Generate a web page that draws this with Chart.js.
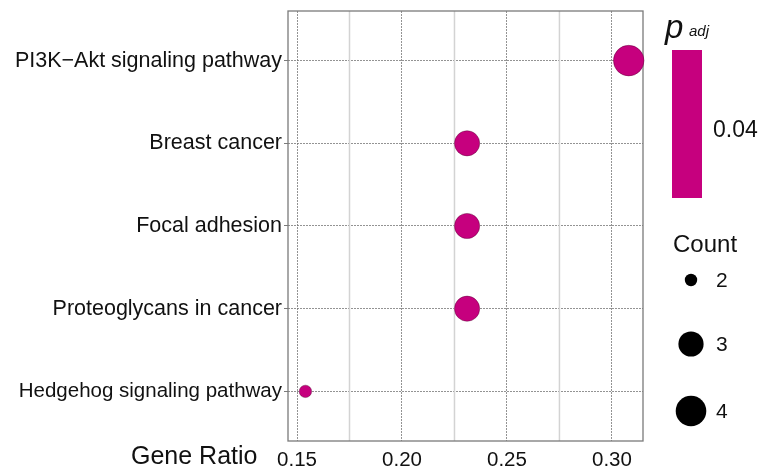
<!DOCTYPE html>
<html>
<head>
<meta charset="utf-8">
<script src="https://cdn.jsdelivr.net/npm/chart.js@4"></script>
<style>
  html, body { margin: 0; padding: 0; background: #fff; }
  #wrap { width: 765px; height: 470px; position: relative; }
</style>
</head>
<body>
<div id="wrap"><canvas id="dotplot"></canvas></div>
<script>
// pathways, top to bottom
const pathways = [
  'PI3K\u2212Akt signaling pathway',
  'Breast cancer',
  'Focal adhesion',
  'Proteoglycans in cancer',
  'Hedgehog signaling pathway'
];
const geneRatio = [0.308, 0.231, 0.231, 0.231, 0.154];
const counts = [4, 3, 3, 3, 2];
const padj = [0.04, 0.04, 0.04, 0.04, 0.04];

const xTicks = [0.15, 0.20, 0.25, 0.30];
const xMinor = [0.175, 0.225, 0.275];
const legendCounts = [2, 3, 4];
const padjTicks = ['0.04'];

const dotColor = '#C6007E';
const countRadius = { 2: 6.2, 3: 12.6, 4: 15.3 };
const font = "'Liberation Sans', Arial, sans-serif";

// row position: top row gets the highest value
const rowOf = i => pathways.length - i;

const points = pathways.map((p, i) => ({ x: geneRatio[i], y: rowOf(i) }));

// minor grid, panel box, legends on the right, x title
const sidePlugin = {
  id: 'side',
  beforeDatasetsDraw(chart) {
    const a = chart.chartArea, c = chart.ctx, xs = chart.scales.x;
    c.save();
    c.strokeStyle = '#d3d3d3';
    c.lineWidth = 1.5;
    xMinor.forEach(v => {
      const px = xs.getPixelForValue(v);
      c.beginPath();
      c.moveTo(px, a.top);
      c.lineTo(px, a.bottom);
      c.stroke();
    });
    c.strokeStyle = '#7a7a7a';
    c.lineWidth = 1.3;
    c.strokeRect(a.left, a.top, a.right - a.left, a.bottom - a.top);
    c.restore();
  },
  afterDraw(chart) {
    const c = chart.ctx;
    c.save();
    c.fillStyle = '#111';
    c.textBaseline = 'alphabetic';
    c.textAlign = 'left';

    c.font = '25px ' + font;
    c.fillText('Gene Ratio', 131, 464);

    // p_adj title
    c.font = 'italic 33px ' + font;
    c.fillText('p', 665, 38);
    c.font = 'italic 15px ' + font;
    c.fillText('adj', 689, 36);

    // colour bar (all values equal, single colour)
    c.fillStyle = dotColor;
    c.fillRect(672, 50, 30, 148);
    c.fillStyle = '#111';
    c.font = '23px ' + font;
    c.textBaseline = 'middle';
    padjTicks.forEach(t => c.fillText(t, 713, 131));

    // size legend
    c.textBaseline = 'alphabetic';
    c.font = '24px ' + font;
    c.fillText('Count', 673, 252);
    const ys = [280, 344, 411];
    c.font = '21px ' + font;
    legendCounts.forEach((n, i) => {
      c.beginPath();
      c.arc(691, ys[i], countRadius[n], 0, Math.PI * 2);
      c.fillStyle = '#000';
      c.fill();
      c.fillStyle = '#111';
      c.textBaseline = 'middle';
      c.fillText(String(n), 716, ys[i] + 1);
    });
    c.restore();
  }
};

const noPad = s => {
  s.paddingTop = 0; s.paddingBottom = 0; s.paddingLeft = 0; s.paddingRight = 0;
};

new Chart(document.getElementById('dotplot'), {
  type: 'scatter',
  data: {
    datasets: [{
      data: points,
      clip: false,
      pointRadius: ctx => countRadius[counts[ctx.dataIndex]],
      pointHoverRadius: ctx => countRadius[counts[ctx.dataIndex]],
      pointBackgroundColor: dotColor,
      pointBorderColor: 'rgba(70,0,40,0.55)',
      pointBorderWidth: 0.7
    }]
  },
  options: {
    responsive: true,
    maintainAspectRatio: false,
    animation: false,
    layout: { autoPadding: false, padding: { left: 0, top: 11, right: 122, bottom: 0 } },
    plugins: { legend: { display: false }, tooltip: { enabled: false } },
    scales: {
      x: {
        type: 'linear',
        min: 0.1457,
        max: 0.3148,
        afterBuildTicks: s => { s.ticks = xTicks.map(v => ({ value: v })); },
        afterFit: s => { s.height = 29; noPad(s); },
        border: { display: false, dash: [2, 1] },
        grid: {
          drawTicks: false,
          color: 'rgba(120,120,120,0.8)',
          lineWidth: 1
        },
        ticks: {
          autoSkip: false,
          maxRotation: 0,
          padding: 7,
          color: '#111',
          font: { family: font, size: 20.5 },
          callback: v => v.toFixed(2)
        }
      },
      y: {
        type: 'linear',
        min: 0.4,
        max: 5.6,
        afterBuildTicks: s => { s.ticks = pathways.map((p, i) => ({ value: rowOf(i) })); },
        afterFit: s => { s.width = 288; noPad(s); },
        border: { display: false, dash: [2, 1] },
        grid: {
          color: 'rgba(120,120,120,0.8)',
          lineWidth: 1,
          drawTicks: true,
          tickLength: 4,
          tickColor: '#7a7a7a'
        },
        ticks: {
          autoSkip: false,
          padding: 2,
          color: '#111',
          font: ctx => ({ family: font, size: ctx.tick && ctx.tick.value === 1 ? 20.5 : 21.5 }),
          callback: v => pathways[pathways.length - v]
        }
      }
    }
  },
  plugins: [sidePlugin]
});
</script>
</body>
</html>
